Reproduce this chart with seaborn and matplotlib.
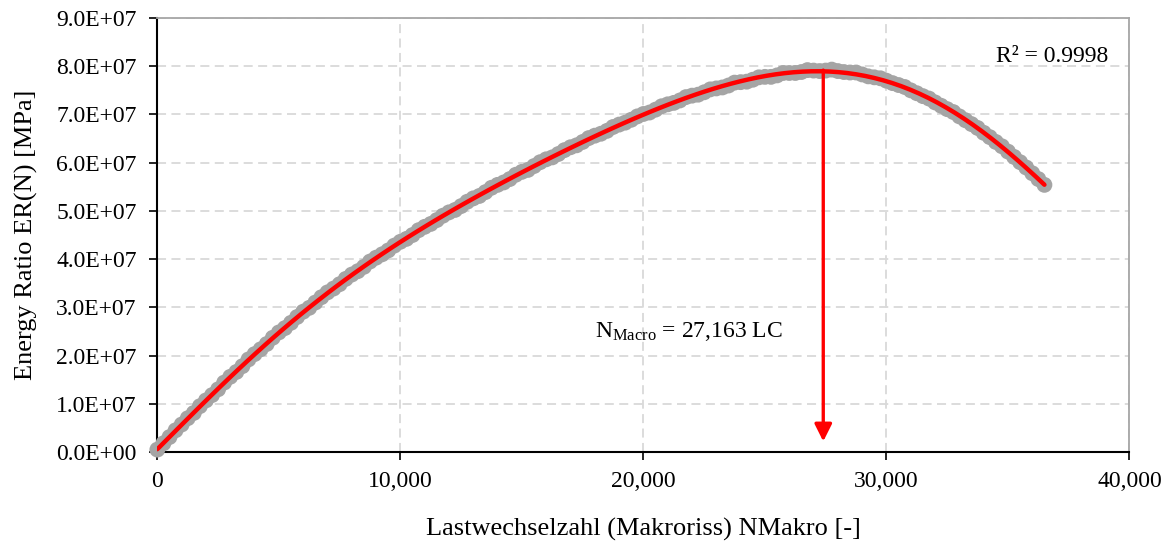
import numpy as np
import pandas as pd
import matplotlib
matplotlib.use("Agg")
import matplotlib.pyplot as plt
import seaborn as sns
from matplotlib.ticker import FormatStrFormatter, FuncFormatter, FixedLocator

# ---------------- data ----------------
cycles = [0, 250, 500, 750, 1000, 1250, 1500, 1750, 2000, 2250,
          2500, 2750, 3000, 3250, 3500, 3750, 4000, 4250, 4500, 4750,
          5000, 5250, 5500, 5750, 6000, 6250, 6500, 6750, 7000, 7250,
          7500, 7750, 8000, 8250, 8500, 8750, 9000, 9250, 9500, 9750,
          10000, 10250, 10500, 10750, 11000, 11250, 11500, 11750, 12000, 12250,
          12500, 12750, 13000, 13250, 13500, 13750, 14000, 14250, 14500, 14750,
          15000, 15250, 15500, 15750, 16000, 16250, 16500, 16750, 17000, 17250,
          17500, 17750, 18000, 18250, 18500, 18750, 19000, 19250, 19500, 19750,
          20000, 20250, 20500, 20750, 21000, 21250, 21500, 21750, 22000, 22250,
          22500, 22750, 23000, 23250, 23500, 23750, 24000, 24250, 24500, 24750,
          25000, 25250, 25500, 25750, 26000, 26250, 26500, 26750, 27000, 27250,
          27500, 27750, 28000, 28250, 28500, 28750, 29000, 29250, 29500, 29750,
          30000, 30250, 30500, 30750, 31000, 31250, 31500, 31750, 32000, 32250,
          32500, 32750, 33000, 33250, 33500, 33750, 34000, 34250, 34500, 34750,
          35000, 35250, 35500, 35750, 36000, 36250, 36500]
# energy ratio in units of 1E+07 MPa
energy_ratio_e7 = [0.05, 0.18, 0.31, 0.45, 0.57, 0.70, 0.81, 0.95, 1.07, 1.18,
                   1.30, 1.44, 1.56, 1.66, 1.78, 1.92, 2.03, 2.13, 2.24, 2.37,
                   2.48, 2.57, 2.68, 2.80, 2.91, 2.99, 3.10, 3.21, 3.31, 3.39,
                   3.48, 3.59, 3.68, 3.75, 3.84, 3.95, 4.03, 4.10, 4.18, 4.28,
                   4.36, 4.42, 4.50, 4.60, 4.67, 4.73, 4.81, 4.90, 4.97, 5.02,
                   5.10, 5.19, 5.26, 5.31, 5.39, 5.48, 5.54, 5.59, 5.66, 5.75,
                   5.81, 5.85, 5.93, 6.01, 6.07, 6.11, 6.18, 6.26, 6.32, 6.36,
                   6.43, 6.51, 6.56, 6.60, 6.66, 6.74, 6.79, 6.83, 6.89, 6.96,
                   7.01, 7.04, 7.10, 7.17, 7.21, 7.24, 7.29, 7.36, 7.39, 7.41,
                   7.46, 7.52, 7.54, 7.56, 7.60, 7.66, 7.67, 7.68, 7.72, 7.77,
                   7.78, 7.78, 7.81, 7.86, 7.86, 7.86, 7.88, 7.92, 7.91, 7.90,
                   7.91, 7.93, 7.90, 7.88, 7.87, 7.87, 7.83, 7.79, 7.77, 7.75,
                   7.70, 7.65, 7.61, 7.57, 7.50, 7.44, 7.38, 7.33, 7.25, 7.18,
                   7.11, 7.05, 6.96, 6.88, 6.80, 6.72, 6.62, 6.53, 6.43, 6.34,
                   6.23, 6.12, 6.01, 5.90, 5.78, 5.66, 5.54]
x_ticks = [0, 10000, 20000, 30000, 40000]
y_ticks_e7 = [0, 1, 2, 3, 4, 5, 6, 7, 8, 9]
arrow_x = 27400            # position of the arrow in the picture
arrow_top_e7 = 7.92
arrow_tip_e7 = 0.22
n_macro_text = "27,163"
r2_text = "0.9998"

x_label = "Lastwechselzahl (Makroriss) NMakro [-]"
y_label = "Energy Ratio ER(N) [MPa]"

df = pd.DataFrame({"N": cycles, "ER": np.array(energy_ratio_e7) * 1e7})

# ---------------- style ----------------
sns.set_style("ticks")
plt.rcParams["font.family"] = ["Liberation Serif", "DejaVu Serif"]
plt.rcParams["mathtext.fontset"] = "custom"
plt.rcParams["mathtext.rm"] = "Liberation Serif"
plt.rcParams["mathtext.it"] = "Liberation Serif:italic"
plt.rcParams["text.color"] = "black"
plt.rcParams["axes.labelcolor"] = "black"
plt.rcParams["xtick.color"] = "black"
plt.rcParams["ytick.color"] = "black"

FS = 17
FS_LABEL = 19
fig = plt.figure(figsize=(11.69, 5.41), dpi=100)
ax = fig.add_axes([0.1346, 0.1645, 0.8316, 0.8022])

# measured points
sns.scatterplot(data=df, x="N", y="ER", ax=ax, color="#A5A5A5", s=130,
                edgecolor="none", linewidth=0, zorder=3, clip_on=False,
                legend=False)
# polynomial trend line
sns.regplot(data=df, x="N", y="ER", ax=ax, order=6, ci=None, scatter=False,
            truncate=True, line_kws=dict(color="#FF0000", lw=3.2, zorder=4))

# arrow at N_Macro
ax.annotate("", xy=(arrow_x, arrow_tip_e7 * 1e7),
            xytext=(arrow_x, arrow_top_e7 * 1e7),
            arrowprops=dict(arrowstyle="-|>", color="#FF0000", lw=2.4,
                            mutation_scale=26, shrinkA=0, shrinkB=0),
            zorder=5)
ax.text(18000, 2.5e7, r"N$_{\mathrm{Macro}}$ = " + n_macro_text + " LC",
        fontsize=FS, ha="left", va="center", zorder=6)
ax.text(0.978, 0.912, "R² = " + r2_text, transform=ax.transAxes,
        fontsize=FS, ha="right", va="center", zorder=6)

# axes
ax.set_xlim(0, 40000)
ax.set_ylim(0, 9e7)
ax.xaxis.set_major_locator(FixedLocator(x_ticks))
ax.yaxis.set_major_locator(FixedLocator([v * 1e7 for v in y_ticks_e7]))
ax.xaxis.set_major_formatter(FuncFormatter(lambda v, p: f"{v:,.0f}"))
ax.yaxis.set_major_formatter(FormatStrFormatter("%.1E"))
ax.tick_params(axis="both", direction="out", length=6, width=1.2,
               color="black", labelsize=FS, labelcolor="black")
ax.tick_params(axis="x", pad=8)
ax.tick_params(axis="y", pad=9)

ax.grid(True, which="major", color="#D9D9D9", linestyle=(0, (5, 3)), lw=1.3)
ax.set_axisbelow(True)

for side in ["left", "bottom"]:
    ax.spines[side].set_color("black")
    ax.spines[side].set_linewidth(1.5)
for side in ["top", "right"]:
    ax.spines[side].set_visible(True)
    ax.spines[side].set_color("#A6A6A6")
    ax.spines[side].set_linewidth(1.3)

ax.set_xlabel(x_label, fontsize=FS_LABEL, labelpad=18)
ax.set_ylabel(y_label, fontsize=FS_LABEL, labelpad=13)

fig.savefig("out.png", dpi=100)
